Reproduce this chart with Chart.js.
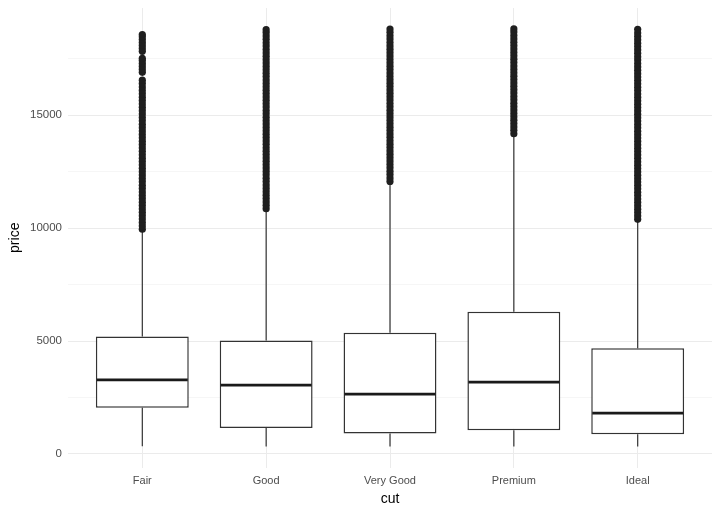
<!DOCTYPE html>
<html>
<head>
<meta charset="utf-8">
<script src="https://cdn.jsdelivr.net/npm/chart.js@4.4.1/dist/chart.umd.min.js"></script>
<style>
    html, body { margin: 0; padding: 0; background: #fff; }
    #wrap { width: 720px; height: 513px; }
</style>
</head>
<body>
<div id="wrap"><canvas id="boxChart" width="720" height="513"></canvas></div>
<script>
// Price by cut (boxplot stats)
const cuts = ['Fair', 'Good', 'Very Good', 'Premium', 'Ideal'];
const lowerWhisker = [337, 327, 336, 326, 326];
const q1 = [2050, 1145, 912, 1046, 878];
const median = [3282, 3050, 2648, 3185, 1810];
const q3 = [5205, 5028, 5373, 6296, 4678];
const upperWhisker = [9900, 10840, 12050, 14160, 10370];

// Outliers (dense runs sampled along the drawn column)
const outFair = [9950, 10100, 10250, 10400, 10550, 10700, 10850, 11000, 11150, 11300, 11450, 11600,
    11750, 11900, 12050, 12200, 12350, 12500, 12650, 12800, 12950, 13100, 13250, 13400, 13550,
    13700, 13850, 14000, 14150, 14300, 14450, 14600, 14750, 14900, 15050, 15200, 15350, 15500,
    15650, 15800, 15950, 16100, 16250, 16400, 16550, 16900, 17030, 17160, 17290, 17420, 17520,
    17830, 17960, 18090, 18220, 18350, 18470, 18574];
const outGood = [10860, 11010, 11160, 11310, 11460, 11610, 11760, 11910, 12060, 12210, 12360, 12510,
    12660, 12810, 12960, 13110, 13260, 13410, 13560, 13710, 13860, 14010, 14160, 14310, 14460,
    14610, 14760, 14910, 15060, 15210, 15360, 15510, 15660, 15810, 15960, 16110, 16260, 16410,
    16560, 16710, 16860, 17010, 17160, 17310, 17460, 17610, 17760, 17910, 18060, 18210, 18360,
    18510, 18660, 18788];
const outVeryGood = [12070, 12220, 12370, 12520, 12670, 12820, 12970, 13120, 13270, 13420, 13570,
    13720, 13870, 14020, 14170, 14320, 14470, 14620, 14770, 14920, 15070, 15220, 15370, 15520,
    15670, 15820, 15970, 16120, 16270, 16420, 16570, 16720, 16870, 17020, 17170, 17320, 17470,
    17620, 17770, 17920, 18070, 18220, 18370, 18520, 18670, 18818];
const outPremium = [14180, 14330, 14480, 14630, 14780, 14930, 15080, 15230, 15380, 15530, 15680,
    15830, 15980, 16130, 16280, 16430, 16580, 16730, 16880, 17030, 17180, 17330, 17480, 17630,
    17780, 17930, 18080, 18230, 18380, 18530, 18680, 18823];
const outIdeal = [10390, 10540, 10690, 10840, 10990, 11140, 11290, 11440, 11590, 11740, 11890, 12040,
    12190, 12340, 12490, 12640, 12790, 12940, 13090, 13240, 13390, 13540, 13690, 13840, 13990,
    14140, 14290, 14440, 14590, 14740, 14890, 15040, 15190, 15340, 15490, 15640, 15790, 15940,
    16090, 16240, 16390, 16540, 16690, 16840, 16990, 17140, 17290, 17440, 17590, 17740, 17890,
    18040, 18190, 18340, 18490, 18640, 18806];
const outliers = [outFair, outGood, outVeryGood, outPremium, outIdeal];

const yTicks = [0, 2500, 5000, 7500, 10000, 12500, 15000, 17500];

const FONT = "'Liberation Sans', Arial, Helvetica, sans-serif";
const INK = '#333333';

// whiskers behind boxes, medians on top
const boxExtras = {
    id: 'boxExtras',
    beforeDatasetsDraw(chart) {
        const { ctx, scales: { x, y } } = chart;
        ctx.save();
        ctx.strokeStyle = INK;
        ctx.lineWidth = 1.2;
        cuts.forEach((c, i) => {
            const px = x.getPixelForValue(i + 1);
            ctx.beginPath();
            ctx.moveTo(px, y.getPixelForValue(q3[i]));
            ctx.lineTo(px, y.getPixelForValue(upperWhisker[i]));
            ctx.moveTo(px, y.getPixelForValue(q1[i]));
            ctx.lineTo(px, y.getPixelForValue(lowerWhisker[i]));
            ctx.stroke();
        });
        ctx.restore();
    },
    afterDatasetsDraw(chart) {
        const { ctx, scales: { y } } = chart;
        const meta = chart.getDatasetMeta(0);
        ctx.save();
        ctx.strokeStyle = '#1a1a1a';
        ctx.lineWidth = 2.8;
        meta.data.forEach((bar, i) => {
            const half = bar.width / 2;
            const py = y.getPixelForValue(median[i]);
            ctx.beginPath();
            ctx.moveTo(bar.x - half + 1, py);
            ctx.lineTo(bar.x + half - 1, py);
            ctx.stroke();
        });
        ctx.restore();
    }
};

const pointData = [];
outliers.forEach((list, i) => {
    list.forEach(v => pointData.push({ x: i + 1, y: v }));
});

new Chart(document.getElementById('boxChart').getContext('2d'), {
    type: 'bar',
    data: {
        datasets: [{
            type: 'bar',
            label: 'box',
            data: cuts.map((c, i) => ({ x: i + 1, y: [q1[i], q3[i]] })),
            backgroundColor: '#ffffff',
            borderColor: INK,
            borderWidth: 1.5,
            borderSkipped: false,
            barPercentage: 0.75,
            categoryPercentage: 1.0,
            grouped: false,
            order: 2
        }, {
            type: 'line',
            label: 'outliers',
            data: pointData,
            showLine: false,
            pointRadius: 3.6,
            pointHoverRadius: 3.6,
            pointBackgroundColor: '#1f1f1f',
            pointBorderWidth: 0,
            order: 1
        }]
    },
    options: {
        responsive: false,
        animation: false,
        devicePixelRatio: 1,
        layout: { padding: { top: 8, right: 8, left: 7, bottom: 5 } },
        plugins: {
            legend: { display: false },
            tooltip: { enabled: false }
        },
        scales: {
            x: {
                type: 'linear',
                min: 0.4,
                max: 5.6,
                offset: false,
                afterBuildTicks: (scale) => {
                    scale.ticks = cuts.map((c, i) => ({ value: i + 1 }));
                },
                afterFit: (scale) => { scale.height = 40.5; },
                border: { display: false },
                grid: { color: '#ebebeb', lineWidth: 1, drawTicks: false, offset: false },
                ticks: {
                    color: '#4d4d4d',
                    font: { family: FONT, size: 11 },
                    padding: 7,
                    maxRotation: 0,
                    autoSkip: false,
                    callback: (value) => cuts[value - 1]
                },
                title: {
                    display: true,
                    text: 'cut',
                    color: '#000',
                    font: { family: FONT, size: 14 },
                    padding: { top: 2, bottom: 0 }
                }
            },
            y: {
                type: 'linear',
                min: -599,
                max: 19748,
                afterBuildTicks: (scale) => {
                    scale.ticks = yTicks.map(v => ({ value: v }));
                },
                afterFit: (scale) => {
                    scale.width = 61;
                    scale.paddingTop = 0;
                    scale.paddingBottom = 0;
                },
                border: { display: false },
                grid: {
                    drawTicks: false,
                    color: (ctx) => (ctx.tick && ctx.tick.value % 5000 === 0) ? '#ebebeb' : '#f4f4f4',
                    lineWidth: (ctx) => (ctx.tick && ctx.tick.value % 5000 === 0) ? 1.1 : 0.8
                },
                ticks: {
                    color: '#4d4d4d',
                    font: { family: FONT, size: 11.5 },
                    padding: 6,
                    callback: (value) => value % 5000 === 0 ? String(value) : ''
                },
                title: {
                    display: true,
                    text: 'price',
                    color: '#000',
                    font: { family: FONT, size: 14 },
                    padding: { top: 0, bottom: 2 }
                }
            }
        }
    },
    plugins: [boxExtras]
});
</script>
</body>
</html>
